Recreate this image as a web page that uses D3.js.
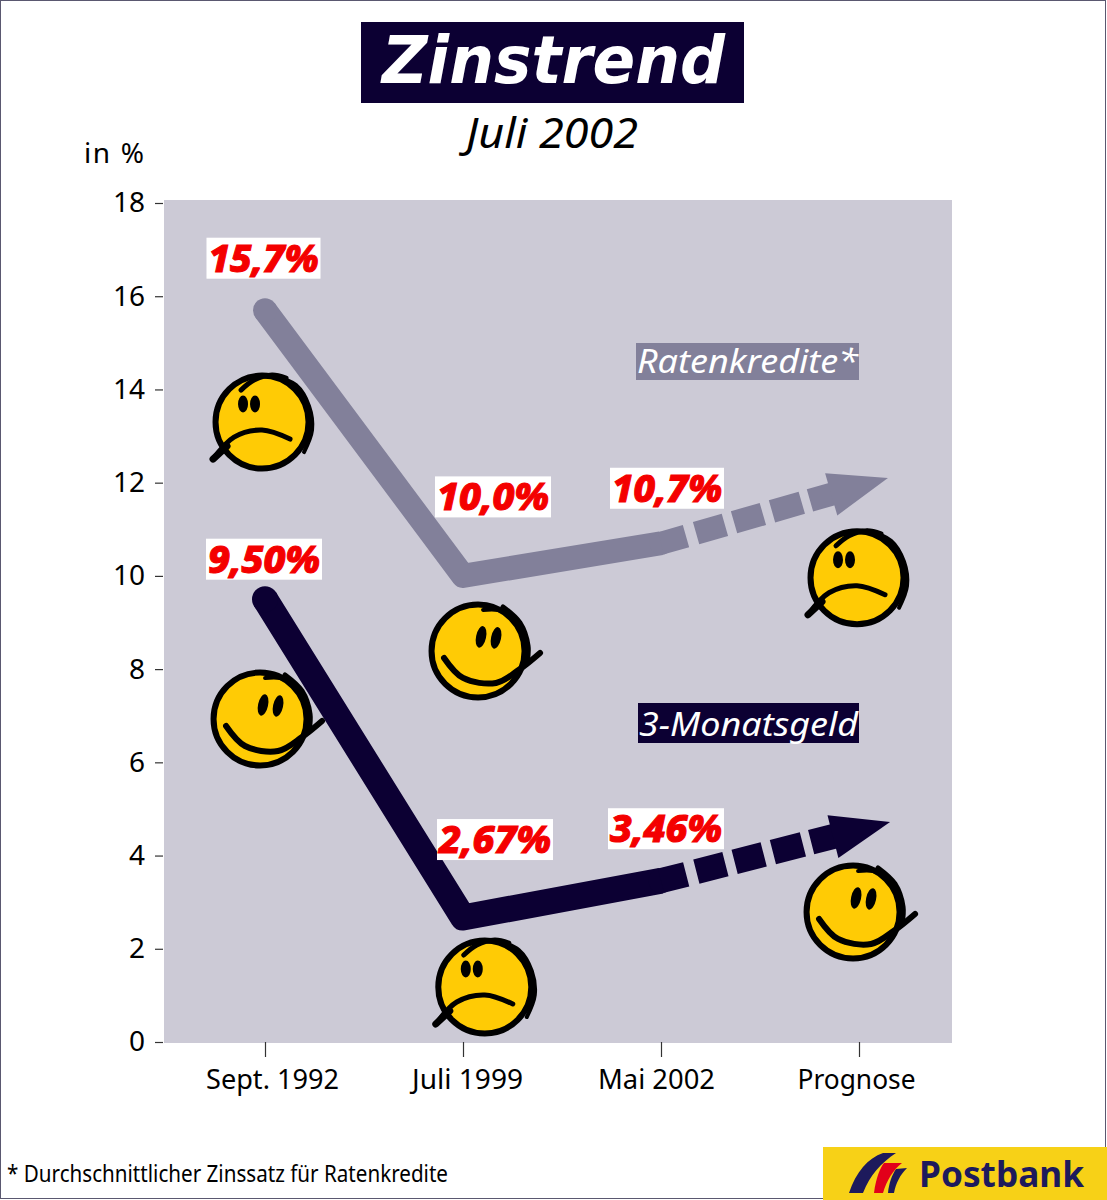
<!DOCTYPE html>
<html><head><meta charset="utf-8">
<script src="https://cdn.jsdelivr.net/npm/d3@7"></script>
<style>html,body{margin:0;padding:0;background:#fff}svg{display:block}
text{font-family:"Noto Sans",sans-serif}</style></head><body><svg id="c" width="1107" height="1200"></svg>
<script>
const categories=["Sept. 1992","Juli 1999","Mai 2002","Prognose"];
const yTicks=[0,2,4,6,8,10,12,14,16,18];
const ratenkredite=[15.7,10.0,10.7];
const monatsgeld=[9.5,2.67,3.46];
const ratenLabels=["15,7%","10,0%","10,7%"];
const monatLabels=["9,50%","2,67%","3,46%"];
const ratenTip=[3.146,12.1];
const monatTip=[3.157,4.72];
const ratenMoods=["sad","happy","sad"];
const monatMoods=["happy","sad","happy"];
const ratenSmileyAt=[[-0.015,13.3],[1.076,8.39],[2.99,9.96]];
const monatSmileyAt=[[-0.025,6.93],[1.11,1.18],[2.97,2.79]];

const NAVY="#0c0033",GREY="#82809a",PANEL="#cccad6",RED="#f40000",YEL="#ffcb05";
const svg=d3.select("#c");
const x=d3.scaleLinear().domain([0,3]).range([265,859]);
const y=d3.scaleLinear().domain([0,18]).range([1042,203]);

svg.append("rect").attr("x",.5).attr("y",.5).attr("width",1105).attr("height",1198).attr("fill","#fff").attr("stroke","#5a5870");
svg.append("rect").attr("x",164).attr("y",200).attr("width",788).attr("height",843).attr("fill",PANEL);

// title
svg.append("rect").attr("x",361).attr("y",22).attr("width",383).attr("height",81).attr("fill",NAVY);
svg.append("text").attr("x",382).attr("y",83).attr("fill","#fff").style("font-family",'"DejaVu Sans",sans-serif')
  .attr("font-size",66).attr("font-weight",700).attr("font-style","italic").attr("textLength",343).attr("lengthAdjust","spacingAndGlyphs").text("Zinstrend");
svg.append("text").attr("x",466).attr("y",148).attr("fill","#000")
  .attr("font-size",41).attr("font-style","italic").attr("textLength",172).attr("lengthAdjust","spacingAndGlyphs").text("Juli 2002");
svg.append("text").attr("x",84).attr("y",163).attr("fill","#000").attr("font-size",28).attr("textLength",60).text("in %");

// axes
const yAxis=svg.append("g").attr("transform","translate(163,0)")
  .call(d3.axisLeft(y).tickValues(yTicks).tickSize(8).tickPadding(10).tickFormat(d3.format("d")));
yAxis.select(".domain").remove();
yAxis.selectAll("line").attr("stroke","#333").attr("stroke-width",1.2);
yAxis.selectAll("text").attr("font-size",28).attr("fill","#000").attr("font-family",'"Noto Sans",sans-serif');
const xAxis=svg.append("g").attr("transform","translate(0,1042)")
  .call(d3.axisBottom(x).tickValues([0,1,2,3]).tickSize(15).tickPadding(13).tickFormat(i=>categories[i]));
xAxis.select(".domain").remove();
xAxis.selectAll("line").attr("stroke","#333").attr("stroke-width",1.2);
const xShift=[7,4,-5,-3];
const xWidth=[133,111,117,118];
xAxis.selectAll("text").attr("font-size",27).attr("fill","#000").attr("font-family",'"Noto Sans",sans-serif')
  .attr("dx",(d,i)=>xShift[i]).attr("textLength",(d,i)=>xWidth[i]).attr("lengthAdjust","spacingAndGlyphs");

const line=d3.line().x(d=>x(d[0])).y(d=>y(d[1]));

function trend(vals,tip,color,w){
  const pts=vals.map((v,i)=>[i,v]);
  svg.append("path").attr("d",line(pts)).attr("fill","none").attr("stroke",color)
    .attr("stroke-width",w).attr("stroke-linejoin","round");
  svg.append("circle").attr("cx",x(0)).attr("cy",y(vals[0])).attr("r",w/2).attr("fill",color);
  svg.append("circle").attr("cx",x(2)).attr("cy",y(vals[2])).attr("r",(w-1)/2).attr("fill",color);
  const ax=x(2),ay=y(vals[2]),bx=x(tip[0]),by=y(tip[1]);
  const L=Math.hypot(bx-ax,by-ay),ux=(bx-ax)/L,uy=(by-ay)/L,nx=-uy,ny=ux;
  const headLen=54,hw=22;
  const baseX=bx-ux*headLen,baseY=by-uy*headLen;
  svg.append("path").attr("d",d3.line()([[ax,ay],[baseX+ux*4,baseY+uy*4]])).attr("fill","none").attr("stroke",color)
    .attr("stroke-width",w-1).attr("stroke-dasharray","26 10.5 30 9.5 30 9.5 31 8.5 200");
  svg.append("path").attr("d",d3.line()([[bx,by],[baseX+nx*hw-ux*5,baseY+ny*hw-uy*5],[baseX-nx*hw-ux*5,baseY-ny*hw-uy*5]])+"Z").attr("fill",color);
}
trend(ratenkredite,ratenTip,GREY,24);
trend(monatsgeld,monatTip,NAVY,26);

function smiley(pos,mood){
  const g=svg.append("g").attr("transform",`translate(${x(pos[0])},${y(pos[1])})`);
  const curve=d3.line().curve(d3.curveCatmullRom);
  g.append("circle").attr("r",46.5).attr("fill",YEL).attr("stroke","#000").attr("stroke-width",6);
  const stroke=(pts,w)=>g.append("path").attr("d",curve(pts)).attr("fill","none").attr("stroke","#000").attr("stroke-width",w).attr("stroke-linecap","round");
  if(mood==="sad"){
    stroke([[-21,-32],[-8,-42],[10,-47],[24,-44]],5);
    stroke([[10,-47],[34,-37],[47,-16],[50,8],[42,30]],4);
    [[-19,-18],[-7,-18]].forEach(e=>g.append("ellipse").attr("cx",e[0]).attr("cy",e[1]).attr("rx",5).attr("ry",8.5).attr("fill","#000"));
    stroke([[-49,37],[-28,15],[0,8],[28,17]],5);
    stroke([[-49,37],[-35,24]],7);
  }else{
    stroke([[5,-41],[20,-41],[35,-35]],4);
    stroke([[25,-44],[42,-28],[50,-5],[49,12]],5);
    [[3,-14],[18,-13]].forEach(e=>g.append("ellipse").attr("cx",e[0]).attr("cy",e[1]).attr("rx",5).attr("ry",11).attr("transform",`rotate(12 ${e[0]} ${e[1]})`).attr("fill","#000"));
    stroke([[-34,7],[-15,27],[18,32],[42,18],[62,2]],6);
  }
}
ratenSmileyAt.forEach((p,i)=>smiley(p,ratenMoods[i]));
monatSmileyAt.forEach((p,i)=>smiley(p,monatMoods[i]));

function valueLabel(idx,val,label,dx,dy){
  const cx=x(idx)+dx,cy=y(val)+dy;
  const w=label==="15,7%"||label==="10,7%"?114:116;
  svg.append("rect").attr("x",cx-w/2).attr("y",cy-20.5).attr("width",w).attr("height",41).attr("fill","#fff");
  svg.append("text").attr("x",cx).attr("y",cy+13.5).attr("text-anchor","middle").attr("fill",RED).attr("stroke",RED).attr("stroke-width",1.1)
    .attr("font-size",38).attr("font-weight",800).attr("font-style","italic").attr("textLength",w-4).attr("lengthAdjust","spacingAndGlyphs").text(label);
}
const ratenOff=[[-1.5,-52],[30,-79],[6,-55]];
const monatOff=[[-1,-40],[32,-78],[5,-52]];
ratenkredite.forEach((v,i)=>valueLabel(i,v,ratenLabels[i],ratenOff[i][0],ratenOff[i][1]));
monatsgeld.forEach((v,i)=>valueLabel(i,v,monatLabels[i],monatOff[i][0],monatOff[i][1]));

// series names
function seriesName(t,bx,by,bw,bh,fill){
  svg.append("rect").attr("x",bx).attr("y",by).attr("width",bw).attr("height",bh).attr("fill",fill);
  svg.append("text").attr("x",bx+bw/2).attr("y",by+bh-7).attr("text-anchor","middle").attr("fill","#fff")
    .attr("font-size",32).attr("font-style","italic").attr("textLength",bw-2).attr("lengthAdjust","spacingAndGlyphs").text(t);
}
seriesName("Ratenkredite*",636,343,223,37,GREY);
seriesName("3-Monatsgeld",638,703,221,40,NAVY);

// footer
svg.append("text").attr("x",7).attr("y",1182).attr("fill","#000").attr("font-size",23).attr("textLength",441).attr("lengthAdjust","spacingAndGlyphs")
  .text("* Durchschnittlicher Zinssatz für Ratenkredite");
svg.append("rect").attr("x",823).attr("y",1147).attr("width",284).attr("height",53).attr("fill","#f7d117");
svg.append("path").attr("d","M849 1193C856 1172 868 1158 883 1153L896 1153C881 1163 870 1175 863 1193Z").attr("fill","#1d1a5c");
svg.append("path").attr("d","M874 1193C876 1178 880 1168 884 1163L902 1163C893 1170 887 1180 883 1193Z").attr("fill","#e2001a");
svg.append("path").attr("d","M888 1193C889 1183 892 1175 896 1169L907 1168C900 1175 896 1183 894 1193Z").attr("fill","#1d1a5c");
svg.append("text").attr("x",919).attr("y",1187).attr("fill","#1d1a5c").attr("font-size",36).attr("font-weight",700).attr("textLength",165).attr("lengthAdjust","spacingAndGlyphs").text("Postbank");
</script></body></html>
